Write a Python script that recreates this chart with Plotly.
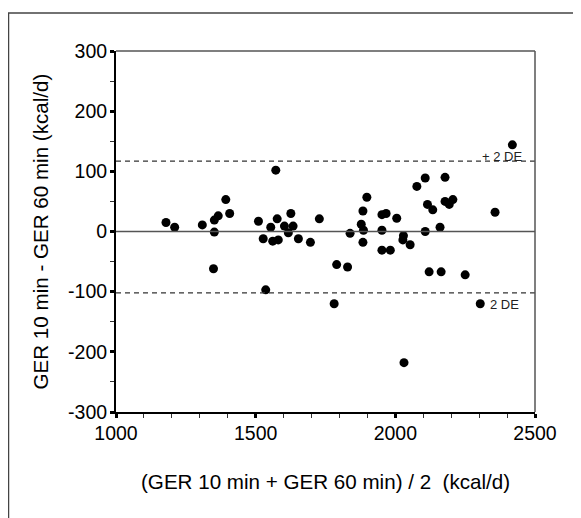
import plotly.graph_objects as go

# Bland-Altman data: mean of the two methods (x) and difference (y)
mean_kcal = [1179, 1210, 1309, 1352, 1366, 1352, 1349, 1393, 1407, 1510,
             1527, 1536, 1554, 1561, 1572, 1577, 1581, 1603, 1617, 1626,
             1634, 1653, 1696, 1728, 1781, 1790, 1829, 1838, 1878, 1884,
             1886, 1884, 1898, 1952, 1952, 1952, 1967, 1982, 2005, 2027,
             2029, 2031, 2053, 2077, 2107, 2107, 2115, 2121, 2134, 2160,
             2164, 2178, 2178, 2193, 2206, 2250, 2304, 2357, 2419]
diff_kcal = [15, 7, 11, 19, 26, -1, -62, 53, 30, 17,
             -12, -97, 7, -16, 102, 21, -14, 9, -2, 30,
             9, -12, -18, 21, -120, -55, -59, -3, 12, 34,
             2, -18, 57, 28, 2, -31, 30, -31, 22, -14,
             -7, -218, -22, 75, 89, 0, 45, -67, 36, 7,
             -67, 90, 50, 45, 53, -72, -120, 32, 144]

upper_limit = 117
lower_limit = -102
upper_label = "+ 2 DE"
lower_label = "2 DE"
x_title = "(GER 10 min + GER 60 min) / 2\u00a0\u00a0(kcal/d)"
y_title = "GER 10 min - GER 60 min (kcal/d)"
x_ticks = [1000, 1500, 2000, 2500]
x_ticktext = ["1000", "1500", "2000", "2500"]
y_ticks = [-300, -200, -100, 0, 100, 200, 300]
y_ticktext = ["-300", "-200", "-100", "0", "100", "200", "300"]

FONT = "Liberation Sans, Arial, sans-serif"

# figure pixel geometry (page body adds an 8px offset)
W, H = 573, 510
L, T, PW, PH = 108, 43, 419, 361
B = H - T - PH
R = W - L - PW


def px(xp):
    return (xp - L) / PW


def py(yp):
    return (T + PH - yp) / PH


fig = go.Figure()
fig.add_trace(go.Scatter(
    x=mean_kcal, y=diff_kcal, mode="markers",
    marker=dict(color="black", size=9, line=dict(width=0)),
    showlegend=False, hoverinfo="x+y"))

shapes = [
    dict(type="line", xref="x", yref="y", x0=1000, x1=2500, y0=0, y1=0,
         line=dict(color="#555555", width=1.6)),
    dict(type="line", xref="x", yref="y", x0=1000, x1=2500,
         y0=upper_limit, y1=upper_limit,
         line=dict(color="#333333", width=1.2, dash="5px,4px")),
    dict(type="line", xref="x", yref="y", x0=1000, x1=2500,
         y0=lower_limit, y1=lower_limit,
         line=dict(color="#333333", width=1.2, dash="5px,4px")),
    dict(type="line", xref="paper", yref="paper", x0=0, x1=1, y0=1, y1=1,
         line=dict(color="#555555", width=1.5)),
    dict(type="line", xref="paper", yref="paper", x0=1, x1=1, y0=0, y1=1,
         line=dict(color="#555555", width=1.5)),
    dict(type="rect", xref="paper", yref="paper",
         x0=px(0.5), x1=px(590), y0=py(530), y1=py(5),
         line=dict(color="#444444", width=1.5)),
]

annotations = [
    dict(x=2304, y=124, xref="x", yref="y", text=upper_label, showarrow=False,
         xanchor="left", yanchor="middle",
         font=dict(family=FONT, size=13, color="#222222")),
    dict(x=2332, y=-122, xref="x", yref="y", text=lower_label, showarrow=False,
         xanchor="left", yanchor="middle",
         font=dict(family=FONT, size=13, color="#222222")),
    dict(x=px(317), y=py(473), xref="paper", yref="paper", text=x_title,
         showarrow=False, xanchor="center", yanchor="middle",
         font=dict(family=FONT, size=20.6, color="black")),
    dict(x=px(32), y=0.5, xref="paper", yref="paper", text=y_title,
         showarrow=False, textangle=-90, xanchor="center", yanchor="middle",
         font=dict(family=FONT, size=20.6, color="black")),
]

fig.update_layout(
    width=W, height=H,
    margin=dict(l=L, r=R, t=T, b=B),
    paper_bgcolor="white", plot_bgcolor="white",
    shapes=shapes, annotations=annotations,
    font=dict(family=FONT, size=19.5, color="black"),
    xaxis=dict(range=[1000, 2500], tickvals=x_ticks, ticktext=x_ticktext,
               showgrid=False, zeroline=False,
               showline=True, linecolor="black", linewidth=2,
               ticks="outside", ticklen=4, tickwidth=3, tickcolor="black",
               ticklabelstandoff=-1,
               minor=dict(dtick=100, ticks="outside", ticklen=4, tickwidth=1,
                          tickcolor="#333333", showgrid=False),
               tickfont=dict(family=FONT, size=19.5, color="black")),
    yaxis=dict(range=[-300, 300], tickvals=y_ticks, ticktext=y_ticktext,
               showgrid=False, zeroline=False,
               showline=True, linecolor="black", linewidth=2,
               ticks="outside", ticklen=4, tickwidth=3, tickcolor="black",
               ticklabelstandoff=-1,
               minor=dict(dtick=50, ticks="outside", ticklen=4, tickwidth=1,
                          tickcolor="#333333", showgrid=False),
               tickfont=dict(family=FONT, size=19.5, color="black")),
)

fig.write_html("out.html")
